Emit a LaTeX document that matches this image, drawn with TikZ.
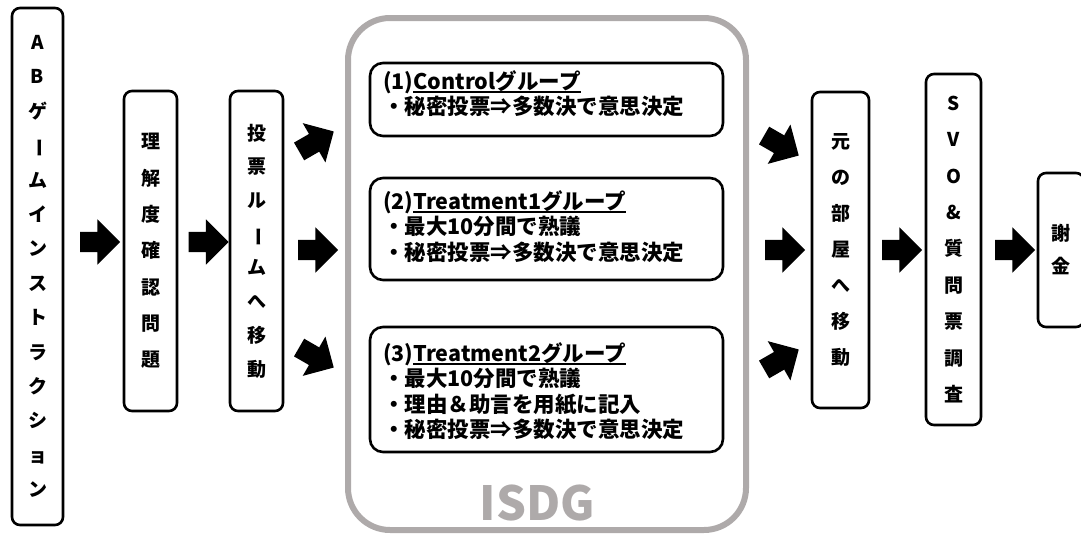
\documentclass[tikz,border=0pt]{standalone}
\usepackage{fontspec}
\setmainfont{Noto Sans CJK JP}
\usetikzlibrary{shapes.arrows}
\definecolor{isdggray}{HTML}{AEAAAA}
\newcommand\grpul[1]{\setbox0\hbox{#1}\rlap{\rule[-4pt]{\wd0}{1.6pt}}\box0}
\newcommand\vbar{\rotatebox[origin=c]{-90}{ー}}
\begin{document}
\begin{tikzpicture}[x=1pt,y=-1pt,
  vbox/.style={draw, line width=2.6pt, rounded corners=8pt, inner sep=0pt, align=center},
  grp/.style={draw, line width=2.6pt, rounded corners=13pt, minimum width=353pt, inner sep=0pt},
  grptext/.style={anchor=north west, align=left, inner sep=0pt, font=\bfseries\fontsize{21.5}{25.5}\selectfont},
  barrow/.style={single arrow, fill=black, draw=none, minimum width=45pt, minimum height=40pt,
    single arrow head extend=12.5pt, inner xsep=0pt, inner ysep=10pt, text width=0pt}]
\useasboundingbox (0,0) rectangle (1081,538);

% vertical boxes
\node[vbox, minimum width=51pt, minimum height=517pt, font=\bfseries\fontsize{19}{34.4}\selectfont]
  (b1) at (37.5,266.5) {A\\B\\ゲ\\\vbar\\ム\\イ\\ン\\ス\\ト\\ラ\\ク\\シ\\ョ\\ン};
\node[vbox, minimum width=53pt, minimum height=320pt, font=\bfseries\fontsize{19}{36.3}\selectfont]
  (b2) at (150.5,251) {理\\解\\度\\確\\認\\問\\題};
\node[vbox, minimum width=53pt, minimum height=320pt, font=\bfseries\fontsize{19}{33.7}\selectfont]
  (b3) at (256.5,251) {投\\票\\ル\\\vbar\\ム\\へ\\移\\動};

% ISDG frame
\node[draw=isdggray, line width=6pt, rounded corners=42pt, minimum width=398pt, minimum height=512pt]
  (isdg) at (547,274) {};
\node[text=isdggray, font=\bfseries\fontsize{47}{47}\selectfont] (isdglabel) at (537.5,503) {ISDG};

\node[grp, minimum height=73pt] (g1) at (546.5,99.5) {};
\node[grptext] (g1t) at (383,70) {(1)\grpul{Controlグループ}\\・秘密投票⇒多数決で意思決定};
\node[grp, minimum height=102pt] (g2) at (546.5,229) {};
\node[grptext] (g2t) at (383,190) {(2)\grpul{Treatment1グループ}\\・最大10分間で熟議\\・秘密投票⇒多数決で意思決定};
\node[grp, minimum height=125pt] (g3) at (546.5,389.5) {};
\node[grptext] (g3t) at (383,342) {(3)\grpul{Treatment2グループ}\\・最大10分間で熟議\\・理由＆助言を用紙に記入\\・秘密投票⇒多数決で意思決定};

% right boxes
\node[vbox, minimum width=57pt, minimum height=316pt, font=\bfseries\fontsize{19}{36}\selectfont]
  (b4) at (840.5,250) {元\\の\\部\\屋\\へ\\移\\動};
\node[vbox, minimum width=55pt, minimum height=351pt, font=\bfseries\fontsize{19}{36.4}\selectfont]
  (b5) at (953.5,249.5) {S\\V\\O\\\&\\質\\問\\票\\調\\査};
\node[vbox, minimum width=46pt, minimum height=154pt, font=\bfseries\fontsize{19}{33}\selectfont]
  (b6) at (1061,250) {謝\\金};

% block arrows
\node[barrow] (a1) at (95,242) {};
\node[barrow] (a2) at (203.5,242) {};
\node[barrow, rotate=30] (a3) at (312,144) {};
\node[barrow] (a4) at (313,250) {};
\node[barrow, rotate=-30] (a5) at (312,355) {};
\node[barrow, rotate=-30] (a6) at (777,143) {};
\node[barrow] (a7) at (780,250) {};
\node[barrow, rotate=30] (a8) at (777,362) {};
\node[barrow] (a9) at (897,250) {};
\node[barrow] (a10) at (1010,250) {};
\end{tikzpicture}
\end{document}
